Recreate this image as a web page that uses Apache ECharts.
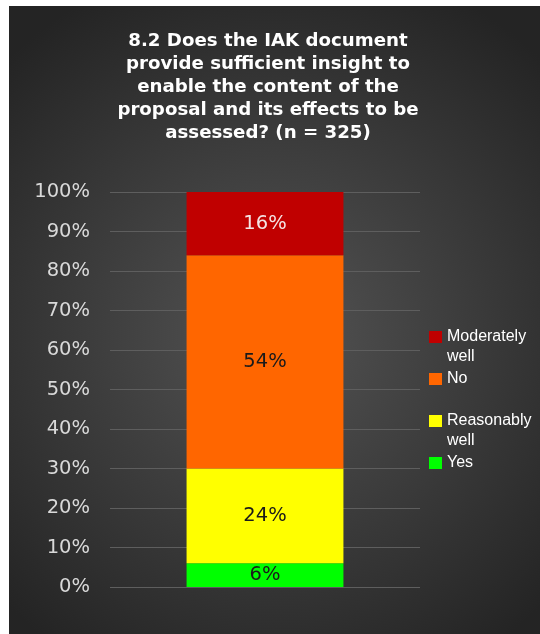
<!DOCTYPE html>
<html>
<head>
<meta charset="utf-8">
<script src="https://cdn.jsdelivr.net/npm/echarts@6/dist/echarts.min.js"></script>
<style>
  html, body { margin: 0; padding: 0; background: #ffffff; }
  #chart { position: absolute; left: 9px; top: 6px; width: 531px; height: 628px; }
</style>
</head>
<body>
<div id="chart"></div>
<script>
// Survey question 8.2, share of answers (percent of n = 325)
const categories = ['8.2'];
const answers = ['Yes', 'Reasonably well', 'No', 'Moderately well'];
const shares = [6, 24, 54, 16];
const legendOrder = ['Moderately well', 'No', 'Reasonably well', 'Yes'];
const legendLabels = ['Moderately\nwell', 'No', 'Reasonably\nwell', 'Yes'];
const titleText = '8.2 Does the IAK document\nprovide sufficient insight to\nenable the content of the\nproposal and its effects to be\nassessed? (n = 325)';

// Styling
const palette = {
  'Yes': '#00ff00',
  'Reasonably well': '#ffff00',
  'No': '#ff6600',
  'Moderately well': '#c00000'
};
const labelInk = {
  'Yes': '#1a1a1a',
  'Reasonably well': '#1a1a1a',
  'No': '#1a1a1a',
  'Moderately well': '#f4e4e4'
};
const legendTops = [301, 363, 385, 447];

const chart = echarts.init(document.getElementById('chart'));

const series = answers.map((name, i) => ({
  name: name,
  type: 'bar',
  stack: 'total',
  barWidth: '50.6%',
  data: [shares[i]],
  itemStyle: { color: palette[name] },
  label: {
    show: true,
    position: 'inside',
    formatter: '{c}%',
    color: labelInk[name],
    fontFamily: 'DejaVu Sans',
    fontSize: 19.5
  },
  emphasis: { disabled: true }
}));

// Two-line legend entries get an empty leading line so the swatch
// sits beside the first line of text rather than between the lines.
const legends = legendOrder.map((name, i) => {
  const label = legendLabels[i];
  const twoLines = label.indexOf('\n') >= 0;
  return {
    data: [name],
    left: 420,
    top: legendTops[i],
    padding: 0,
    itemWidth: 13,
    itemHeight: 12,
    itemStyle: { borderWidth: 0 },
    icon: 'rect',
    selectedMode: false,
    formatter: () => (twoLines ? ' \n' + label : label),
    textStyle: {
      color: '#ffffff',
      fontFamily: 'Liberation Sans',
      fontSize: 16,
      lineHeight: 20
    }
  };
});

chart.setOption({
  backgroundColor: {
    type: 'radial',
    x: 0.5, y: 0.52, r: 0.72,
    colorStops: [
      { offset: 0, color: '#545454' },
      { offset: 1, color: '#242424' }
    ]
  },
  animation: false,
  title: {
    text: titleText,
    left: 254,
    top: 19,
    textAlign: 'center',
    textStyle: {
      color: '#ffffff',
      fontFamily: 'DejaVu Sans',
      fontWeight: 'bold',
      fontSize: 18.2,
      lineHeight: 23,
      align: 'center'
    }
  },
  legend: legends,
  grid: { left: 101, right: 120, top: 186, bottom: 47 },
  xAxis: {
    type: 'category',
    data: categories,
    axisLine: { show: false },
    axisTick: { show: false },
    axisLabel: { show: false }
  },
  yAxis: {
    type: 'value',
    min: 0,
    max: 100,
    interval: 10,
    axisLine: { show: false },
    axisTick: { show: false },
    axisLabel: {
      formatter: '{value}%',
      color: '#d9d9d9',
      fontFamily: 'DejaVu Sans',
      fontSize: 19.5,
      margin: 20
    },
    splitLine: { lineStyle: { color: '#5e5e5e', width: 1 } }
  },
  series: series
});
</script>
</body>
</html>
